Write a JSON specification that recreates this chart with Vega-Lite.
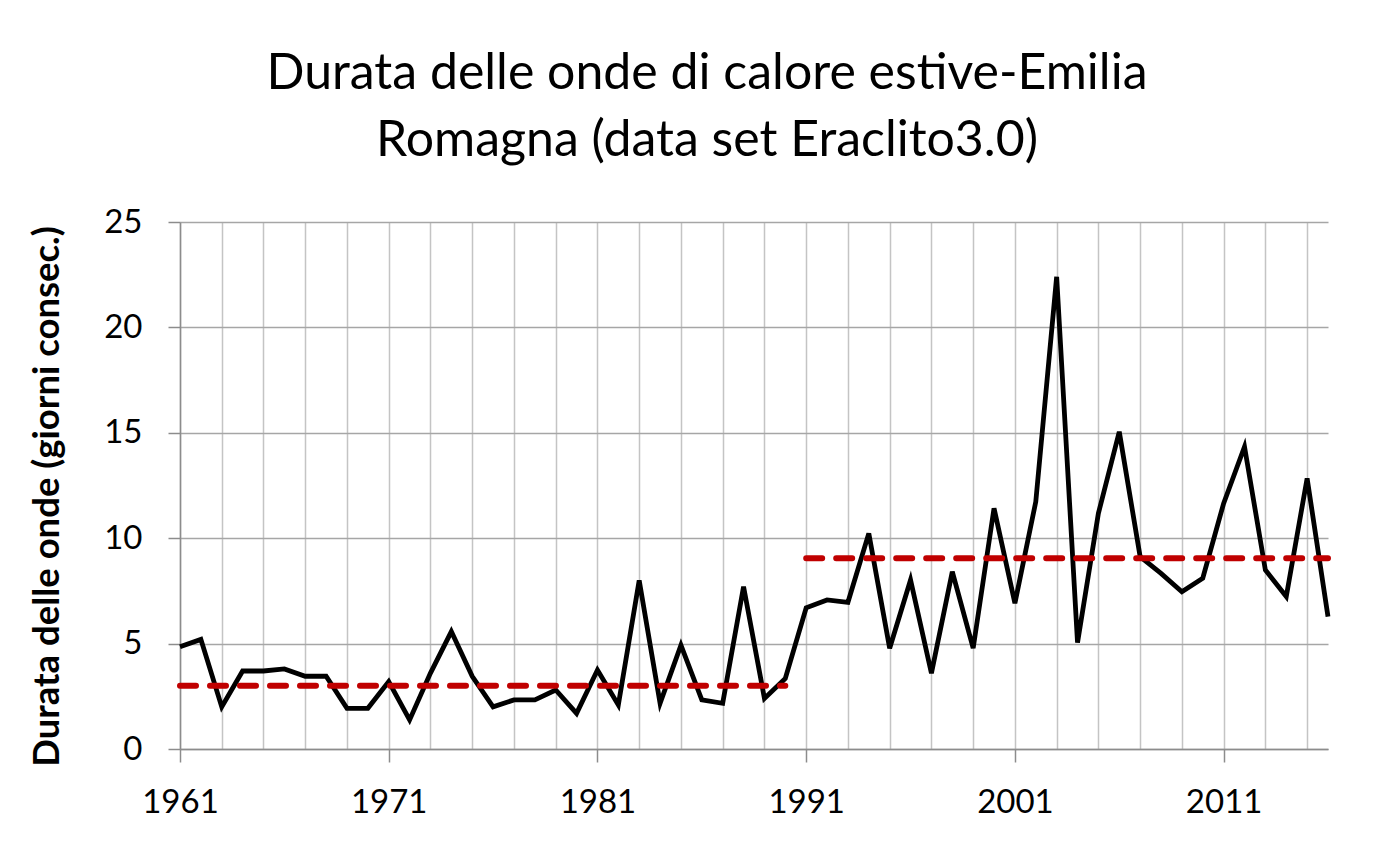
{
  "$schema": "https://vega.github.io/schema/vega-lite/v6.json",
  "width": 1148,
  "height": 527,
  "autosize": "none",
  "padding": {"left": 180, "top": 222, "right": 72, "bottom": 96},
  "background": "white",
  "title": {
    "text": ["Durata delle onde di calore estive-Emilia", "Romagna (data set Eraclito3.0)"],
    "font": "Lato",
    "fontSize": 50,
    "fontWeight": "normal",
    "color": "black",
    "lineHeight": 67,
    "anchor": "middle",
    "frame": "group",
    "dx": -47,
    "baseline": "alphabetic",
    "offset": 0
  },
  "datasets": {
    "serie": [
      {"anno": 1961, "durata": 4.85}, {"anno": 1962, "durata": 5.2}, {"anno": 1963, "durata": 2.0},
      {"anno": 1964, "durata": 3.7}, {"anno": 1965, "durata": 3.7}, {"anno": 1966, "durata": 3.8},
      {"anno": 1967, "durata": 3.45}, {"anno": 1968, "durata": 3.45}, {"anno": 1969, "durata": 1.93},
      {"anno": 1970, "durata": 1.93}, {"anno": 1971, "durata": 3.2}, {"anno": 1972, "durata": 1.38},
      {"anno": 1973, "durata": 3.6}, {"anno": 1974, "durata": 5.57}, {"anno": 1975, "durata": 3.45},
      {"anno": 1976, "durata": 2.0}, {"anno": 1977, "durata": 2.33}, {"anno": 1978, "durata": 2.33},
      {"anno": 1979, "durata": 2.8}, {"anno": 1980, "durata": 1.69}, {"anno": 1981, "durata": 3.75},
      {"anno": 1982, "durata": 2.09}, {"anno": 1983, "durata": 8.0}, {"anno": 1984, "durata": 2.17},
      {"anno": 1985, "durata": 4.93}, {"anno": 1986, "durata": 2.33}, {"anno": 1987, "durata": 2.17},
      {"anno": 1988, "durata": 7.7}, {"anno": 1989, "durata": 2.4}, {"anno": 1990, "durata": 3.35},
      {"anno": 1991, "durata": 6.7}, {"anno": 1992, "durata": 7.07}, {"anno": 1993, "durata": 6.96},
      {"anno": 1994, "durata": 10.23}, {"anno": 1995, "durata": 4.78}, {"anno": 1996, "durata": 8.02},
      {"anno": 1997, "durata": 3.59}, {"anno": 1998, "durata": 8.41}, {"anno": 1999, "durata": 4.78},
      {"anno": 2000, "durata": 11.42}, {"anno": 2001, "durata": 6.91}, {"anno": 2002, "durata": 11.73},
      {"anno": 2003, "durata": 22.4}, {"anno": 2004, "durata": 5.05}, {"anno": 2005, "durata": 11.18},
      {"anno": 2006, "durata": 15.05}, {"anno": 2007, "durata": 9.12}, {"anno": 2008, "durata": 8.33},
      {"anno": 2009, "durata": 7.46}, {"anno": 2010, "durata": 8.1}, {"anno": 2011, "durata": 11.65},
      {"anno": 2012, "durata": 14.34}, {"anno": 2013, "durata": 8.49}, {"anno": 2014, "durata": 7.23},
      {"anno": 2015, "durata": 12.84}, {"anno": 2016, "durata": 6.28}
    ],
    "medie": [
      {"periodo": "1961-1990", "anno": 1961, "media": 3.0},
      {"periodo": "1961-1990", "anno": 1990, "media": 3.0},
      {"periodo": "1991-2016", "anno": 1991, "media": 9.05},
      {"periodo": "1991-2016", "anno": 2016, "media": 9.05}
    ]
  },
  "layer": [
    {
      "data": {"name": "serie"},
      "mark": {"type": "line", "color": "black", "strokeWidth": 4.8, "strokeJoin": "miter", "clip": false},
      "encoding": {
        "x": {
          "field": "anno", "type": "quantitative",
          "scale": {"domain": [1961, 2016], "nice": false, "zero": false},
          "axis": {
            "title": null,
            "values": [1961,1963,1965,1967,1969,1971,1973,1975,1977,1979,1981,1983,1985,1987,1989,1991,1993,1995,1997,1999,2001,2003,2005,2007,2009,2011,2013,2015],
            "format": "d",
            "labelExpr": "(datum.value - 1961) % 10 == 0 ? datum.label : ''",
            "grid": true,
            "gridColor": "#c4c4c4",
            "gridWidth": 1.5,
            "domainColor": "#8c8c8c",
            "domainWidth": 1.5,
            "tickColor": "#8c8c8c",
            "tickWidth": 1.5,
            "tickSize": 13,
            "tickOpacity": {"condition": {"test": "(datum.value - 1961) % 10 == 0", "value": 1}, "value": 0},
            "labelFont": "Lato",
            "labelFontSize": 33,
            "labelColor": "black",
            "labelPadding": 24,
            "labelFlush": false,
            "labelOverlap": false
          }
        },
        "y": {
          "field": "durata", "type": "quantitative",
          "scale": {"domain": [0, 25], "nice": false},
          "axis": {
            "title": "Durata delle onde (giorni consec.)",
            "titleFont": "Lato",
            "titleFontSize": 36.5,
            "titleFontWeight": "bold",
            "titleColor": "black",
            "titleAngle": 270,
            "titleBaseline": "middle",
            "titleAlign": "center",
            "titleX": -133,
            "titleY": 274,
            "values": [0, 5, 10, 15, 20, 25],
            "grid": true,
            "gridColor": "#a6a6a6",
            "gridWidth": 1.5,
            "domainColor": "#8c8c8c",
            "domainWidth": 1.5,
            "tickColor": "#8c8c8c",
            "tickWidth": 1.5,
            "tickSize": 12,
            "labelFont": "Lato",
            "labelFontSize": 33,
            "labelColor": "black",
            "labelPadding": 26
          }
        }
      }
    },
    {
      "data": {"name": "medie"},
      "mark": {"type": "line", "color": "#c00000", "strokeWidth": 6, "strokeDash": [16, 14], "strokeCap": "round"},
      "encoding": {
        "x": {"field": "anno", "type": "quantitative"},
        "y": {"field": "media", "type": "quantitative"},
        "detail": {"field": "periodo"}
      }
    }
  ],
  "config": {
    "view": {"stroke": null}
  }
}
